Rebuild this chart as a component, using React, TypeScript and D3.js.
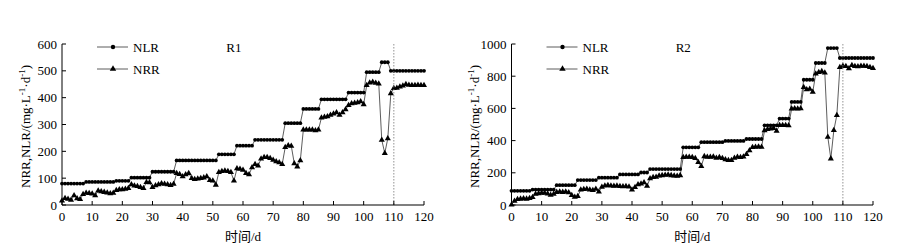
import React from "react";
import * as d3 from "d3";

const days = d3.range(0, 121);

const r1NLR = [
  80, 80, 80, 80, 80, 80, 80, 80,
  86, 86, 86, 86, 86, 86, 86, 86, 86, 86,
  90, 90, 90, 90, 90,
  102, 102, 102, 102, 102, 102, 102,
  124, 124, 124, 124, 124, 124, 124, 124,
  166, 166, 166, 166, 166, 166, 166, 166, 166, 166, 166, 166, 166, 166,
  189, 189, 189, 189, 189, 189,
  221, 221, 221, 221, 221, 221,
  243, 243, 243, 243, 243, 243, 243, 243, 243, 243,
  305, 305, 305, 305, 305, 305,
  358, 358, 358, 358, 358, 358,
  394, 394, 394, 394, 394, 394, 394, 394, 394,
  419, 419, 419, 419, 419, 419,
  495, 495, 495, 495, 495,
  532, 532, 532,
  500, 500, 500, 500, 500, 500, 500, 500, 500, 500, 500, 500,
];

const r1NRR = [
  16, 25, 22, 19, 35, 24, 21, 40, 45, 44,
  42, 35, 53, 50, 48, 46, 43, 45, 55, 58,
  58, 60, 62, 76, 72, 70, 66, 62, 85, 84,
  66, 73, 76, 80, 78, 76, 74, 78, 118, 115,
  106, 114, 118, 100, 96, 98, 100, 102, 106, 92,
  90, 75, 122, 126, 128, 126, 122, 90, 136, 134,
  130, 118, 114, 140, 152, 146, 172, 178, 178, 174,
  168, 162, 158, 152, 215, 222, 220, 155, 143, 166,
  280, 280, 280, 280, 278, 280, 325, 328, 330, 335,
  340, 345, 335, 345, 356, 372, 378, 380, 382, 386,
  375, 446, 456, 458, 455, 452, 242, 193, 248, 416,
  435, 436, 441, 444, 450, 447, 446, 446, 447, 446,
  446,
];

const r2NLR = [
  88, 88, 88, 88, 88, 88, 88,
  96, 96, 96, 96, 96, 96, 96, 96,
  123, 123, 123, 123, 123, 123, 123,
  155, 155, 155, 155, 155, 155, 155,
  170, 170, 170, 170, 170, 170, 170,
  190, 190, 190, 190, 190, 190, 190,
  202, 202, 202,
  223, 223, 223, 223, 223, 223, 223, 223, 223, 223, 223,
  358, 358, 358, 358, 358, 358,
  390, 390, 390, 390, 390, 390, 390, 390,
  398, 398, 398, 398, 398, 398, 398,
  410, 410, 410, 410, 410, 410,
  495, 495, 495, 495, 495,
  537, 537, 537, 537,
  640, 640, 640, 640,
  778, 778, 778, 778,
  882, 882, 882, 882,
  975, 975, 975, 975,
  913, 913, 913, 913, 913, 913, 913, 913, 913, 913, 913, 913,
];

const r2NRR = [
  2, 25, 35, 38, 40, 38, 42, 48, 68, 72,
  74, 74, 70, 62, 68, 80, 82, 80, 82, 78,
  60, 50, 55, 95, 98, 100, 94, 92, 100, 82,
  112, 120, 122, 120, 118, 120, 116, 115, 116, 114,
  95, 110, 128, 132, 140, 118, 165, 172, 174, 182,
  184, 186, 188, 184, 182, 180, 184, 296, 298, 298,
  296, 290, 265, 240, 302, 298, 298, 300, 292, 296,
  290, 282, 278, 278, 292, 298, 296, 300, 315, 338,
  358, 360, 362, 360, 462, 470, 474, 476, 460, 495,
  495, 496, 494, 598, 600, 598, 600, 732, 718, 720,
  702, 815, 825, 830, 822, 422, 288, 464, 558, 855,
  863, 862, 848, 868, 862, 860, 864, 863, 862, 855,
  850,
];

const xTicks = [0, 10, 20, 30, 40, 50, 60, 70, 80, 90, 100, 110, 120];
const r1YTicks = [0, 100, 200, 300, 400, 500, 600];
const r2YTicks = [0, 200, 400, 600, 800, 1000];
const markerDay = 110;

const FONT = "'Liberation Serif', 'Times New Roman', 'Noto Sans CJK SC', serif";
const TOP = 44;
const BOTTOM = 205;

type PanelProps = {
  left: number;
  right: number;
  yMax: number;
  yTicks: number[];
  nlr: number[];
  nrr: number[];
  title: string;
  labelX: number;
};

function Panel({ left, right, yMax, yTicks, nlr, nrr, title, labelX }: PanelProps) {
  const x = d3.scaleLinear().domain([0, 120]).range([left, right]);
  const y = d3.scaleLinear().domain([0, yMax]).range([BOTTOM, TOP]);
  const lineGen = d3
    .line<number>()
    .x((_, i) => x(days[i]))
    .y((d) => y(d));
  const tri = d3.symbol(d3.symbolTriangle, 16)() || "";
  const legTri = d3.symbol(d3.symbolTriangle, 18)() || "";
  const legX = left + 35;
  return (
    <g>
      {/* series lines */}
      <path d={lineGen(nlr) || ""} fill="none" stroke="#333" strokeWidth={0.8} />
      <path d={lineGen(nrr) || ""} fill="none" stroke="#333" strokeWidth={0.8} />
      {nlr.map((v, i) => (
        <circle key={"c" + i} cx={x(days[i])} cy={y(v)} r={1.9} fill="#000" />
      ))}
      {nrr.map((v, i) => (
        <path key={"t" + i} d={tri} transform={`translate(${x(days[i])},${y(v)})`} fill="#000" />
      ))}
      {/* dashed marker line */}
      <line
        x1={x(markerDay)}
        x2={x(markerDay)}
        y1={TOP}
        y2={BOTTOM}
        stroke="#777"
        strokeWidth={0.8}
        strokeDasharray="1.5,1.5"
      />
      {/* axes */}
      <line x1={left} x2={left} y1={TOP} y2={BOTTOM} stroke="#000" strokeWidth={1} />
      <line x1={left} x2={right} y1={BOTTOM} y2={BOTTOM} stroke="#000" strokeWidth={1.2} />
      {yTicks.map((t) => (
        <g key={"y" + t}>
          <line x1={left} x2={left + 4} y1={y(t)} y2={y(t)} stroke="#000" strokeWidth={1} />
          <text
            x={left - 5}
            y={y(t)}
            dy="0.35em"
            textAnchor="end"
            fontSize={13}
            fontFamily={FONT}
            fill="#000"
          >
            {t}
          </text>
        </g>
      ))}
      {xTicks.map((t) => (
        <g key={"x" + t}>
          <line x1={x(t)} x2={x(t)} y1={BOTTOM} y2={BOTTOM - 4} stroke="#000" strokeWidth={1} />
          <text
            x={x(t)}
            y={BOTTOM + 16}
            textAnchor="middle"
            fontSize={13}
            fontFamily={FONT}
            fill="#000"
          >
            {t}
          </text>
        </g>
      ))}
      <text
        x={(left + right) / 2}
        y={241}
        textAnchor="middle"
        fontSize={13}
        fontFamily={FONT}
        fill="#000"
      >
        时间/d
      </text>
      <text
        transform={`translate(${labelX},${(TOP + BOTTOM) / 2 + 2}) rotate(-90)`}
        textAnchor="middle"
        fontSize={13}
        fontFamily={FONT}
        fill="#000"
      >
        NRR,NLR/(mg·L
        <tspan dy={-5} fontSize={9}>-1</tspan>
        <tspan dy={5}>·d</tspan>
        <tspan dy={-5} fontSize={9}>-1</tspan>
        <tspan dy={5}>)</tspan>
      </text>
      {/* legend */}
      <line x1={legX} x2={legX + 31} y1={47} y2={47} stroke="#333" strokeWidth={0.8} />
      <circle cx={legX + 16} cy={47} r={2.2} fill="#000" />
      <text x={legX + 36} y={51.5} fontSize={13} fontFamily={FONT} fill="#000">
        NLR
      </text>
      <line x1={legX} x2={legX + 31} y1={69} y2={69} stroke="#333" strokeWidth={0.8} />
      <path d={legTri} transform={`translate(${legX + 16},${69})`} fill="#000" />
      <text x={legX + 36} y={73.5} fontSize={13} fontFamily={FONT} fill="#000">
        NRR
      </text>
      <text x={x(57)} y={52} textAnchor="middle" fontSize={13} fontFamily={FONT} fill="#000">
        {title}
      </text>
    </g>
  );
}

export default function App() {
  return (
    <svg
      width={916}
      height={251}
      style={{ position: "absolute", left: 0, top: 0, background: "#fff" }}
    >
      <rect width={916} height={251} fill="#fff" />
      <Panel
        left={62}
        right={424}
        yMax={600}
        yTicks={r1YTicks}
        nlr={r1NLR}
        nrr={r1NRR}
        title="R1"
        labelX={30}
      />
      <Panel
        left={511.5}
        right={873}
        yMax={1000}
        yTicks={r2YTicks}
        nlr={r2NLR}
        nrr={r2NRR}
        title="R2"
        labelX={479}
      />
    </svg>
  );
}
